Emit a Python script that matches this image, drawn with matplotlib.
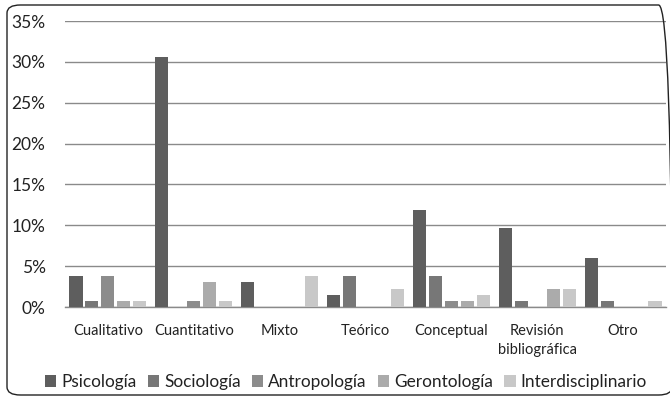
import matplotlib
matplotlib.use("Agg")
import matplotlib.pyplot as plt
import numpy as np
from matplotlib.patches import FancyBboxPatch

plt.rcParams['font.family'] = ['Lato', 'DejaVu Sans']

categories = ["Cualitativo", "Cuantitativo", "Mixto", "Teórico", "Conceptual",
              "Revisión\nbibliográfica", "Otro"]
series_names = ["Psicología", "Sociología", "Antropología", "Gerontología", "Interdisciplinario"]
psicologia = [3.75, 30.6, 3.0, 1.5, 11.9, 9.7, 6.0]
sociologia = [0.75, 0.0, 0.0, 3.75, 3.75, 0.75, 0.75]
antropologia = [3.75, 0.75, 0.0, 0.0, 0.75, 0.0, 0.0]
gerontologia = [0.75, 3.0, 0.0, 0.0, 0.75, 2.25, 0.0]
interdisciplinario = [0.75, 0.75, 3.75, 2.25, 1.5, 2.25, 0.75]
yticks = [0, 5, 10, 15, 20, 25, 30, 35]

series = [psicologia, sociologia, antropologia, gerontologia, interdisciplinario]
colors = ["#5e5e5e", "#777777", "#8c8c8c", "#ababab", "#c8c8c8"]

fig = plt.figure(figsize=(6.7, 4.0), dpi=100)
ax = fig.add_axes([65/670, 1 - 307/400, (666-65)/670, (307-21)/400])

x = np.arange(len(categories))
step = 0.186
width = 0.152
for i, (vals, c, name) in enumerate(zip(series, colors, series_names)):
    ax.bar(x + (i - 2) * step, vals, width=width, color=c, label=name, zorder=3)

ax.set_xlim(-0.5, len(categories) - 0.5)
ax.set_ylim(0, 35)
ax.set_yticks(yticks)
ax.set_yticklabels([f"{t}%" for t in yticks], fontsize=12.5, color="#222222")
ax.set_xticks(x)
ax.set_xticklabels(categories, fontsize=10.5, color="#222222", linespacing=1.45)
ax.tick_params(axis='both', length=0)
ax.tick_params(axis='y', pad=14)
ax.tick_params(axis='x', pad=12)
ax.grid(axis='y', color="#8a8a8a", linewidth=1.0, zorder=0)
for s in ["top", "right", "left"]:
    ax.spines[s].set_visible(False)
ax.spines["bottom"].set_color("#8a8a8a")
ax.spines["bottom"].set_linewidth(1.0)

handles, labels = ax.get_legend_handles_labels()
fig.legend(handles, labels, loc="center", bbox_to_anchor=(346/670, 1 - 382/400),
           ncol=5, frameon=False, fontsize=12.4, handlelength=0.65, handleheight=0.65,
           handletextpad=0.3, columnspacing=0.65, labelcolor="#222222")

border = FancyBboxPatch((7/670, 5/400), 665/670, 390/400,
                        boxstyle="round,pad=0,rounding_size=0.02",
                        transform=fig.transFigure, fill=False,
                        edgecolor="#222222", linewidth=1.0)
fig.patches.append(border)

fig.savefig("out.png", dpi=100)
